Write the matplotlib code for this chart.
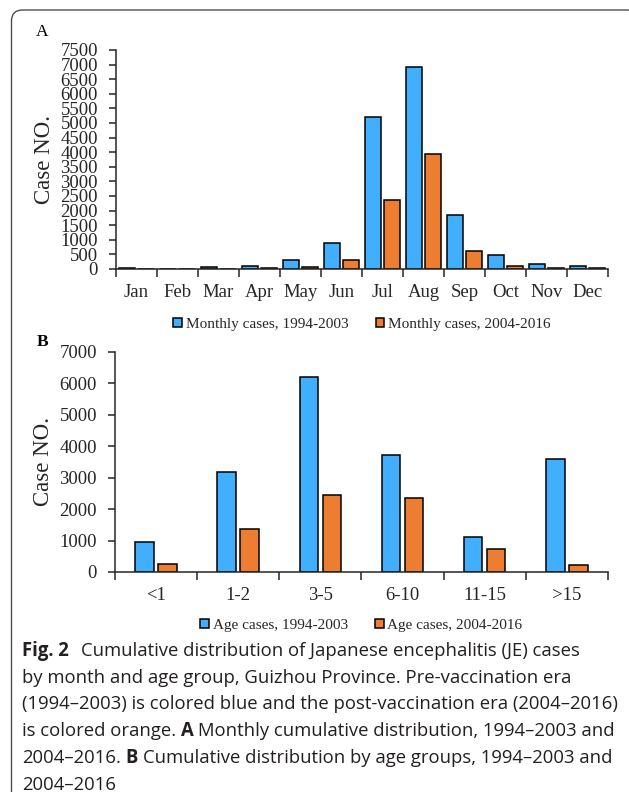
import matplotlib
matplotlib.use('Agg')
import matplotlib.pyplot as plt
import matplotlib.patches as patches
import numpy as np

# monthly cumulative cases (panel A)
months = ['Jan', 'Feb', 'Mar', 'Apr', 'May', 'Jun', 'Jul', 'Aug', 'Sep', 'Oct', 'Nov', 'Dec']
month_pre = [20, 15, 80, 115, 310, 890, 5195, 6905, 1860, 490, 160, 90]
month_post = [10, 10, 15, 20, 55, 310, 2375, 3940, 605, 105, 50, 25]

# cumulative cases by age group (panel B)
age_groups = ['<1', '1-2', '3-5', '6-10', '11-15', '>15']
age_pre = [945, 3170, 6215, 3723, 1103, 3595]
age_post = [265, 1378, 2460, 2345, 732, 212]

caption = [
    [('Fig. 2', True), ('Cumulative distribution of Japanese encephalitis (JE) cases', False)],
    [('by month and age group, Guizhou Province. Pre-vaccination era', False)],
    [('(1994–2003) is colored blue and the post-vaccination era (2004–2016)', False)],
    [('is colored orange.', False), ('A', True), ('Monthly cumulative distribution, 1994–2003 and', False)],
    [('2004–2016.', False), ('B', True), ('Cumulative distribution by age groups, 1994–2003 and', False)],
    [('2004–2016', False)],
]

blue = '#41AFFD'
orange = '#ED7D31'
axis_col = '#262626'
text_col = '#262626'

plt.rcParams['font.family'] = ['Liberation Serif', 'DejaVu Serif']

fig = plt.figure(figsize=(6.29, 8.01), dpi=100)

# full-figure overlay in pixel units for the frame and caption
bg = fig.add_axes([0, 0, 1, 1], zorder=-1)
bg.set_xlim(0, 629)
bg.set_ylim(801, 0)
bg.axis('off')
frame = patches.FancyBboxPatch((11.5, 10), 626, 830,
                               boxstyle='round,pad=0,rounding_size=11',
                               fill=False, ec='#4d4d4d', lw=1.0)
bg.add_patch(frame)
clip = patches.Rectangle((0, 0), 629, 792, transform=bg.transData)
frame.set_clip_path(clip)


def style_axes(ax, n, ymax, ystep):
    ax.set_xlim(-0.5, n - 0.5)
    ax.set_ylim(0, ymax)
    ax.set_yticks(np.arange(0, ymax + 1, ystep))
    ax.set_xticks(np.arange(n))
    ax.set_xticks(np.arange(-0.5, n, 1), minor=True)
    ax.tick_params(axis='x', which='major', length=0, pad=11, labelsize=13.5, colors=text_col)
    ax.tick_params(axis='x', which='minor', length=6, width=1.1, color=axis_col)
    ax.tick_params(axis='y', length=5, width=1.1, pad=8, labelsize=13.5,
                   color=axis_col, labelcolor=text_col)
    for s in ['top', 'right']:
        ax.spines[s].set_visible(False)
    for s in ['left', 'bottom']:
        ax.spines[s].set_linewidth(1.1)
        ax.spines[s].set_color(axis_col)
    ax.set_ylabel('Case NO.', fontsize=16.5, color=text_col)
    ax.yaxis.set_label_coords(-0.123, 0.5)


# panel A
axA = fig.add_axes([0.1844, 0.6642, 0.7822, 0.2734])
x = np.arange(len(months))
axA.bar(x - 0.23, month_pre, 0.37, color=blue, edgecolor='black', linewidth=1.1,
        label='Monthly cases, 1994-2003')
axA.bar(x + 0.23, month_post, 0.37, color=orange, edgecolor='black', linewidth=1.1,
        label='Monthly cases, 2004-2016')
style_axes(axA, len(months), 7500, 500)
axA.set_xticklabels(months)
axA.legend(loc='center', bbox_to_anchor=(0.5, -0.252), ncol=2, frameon=False,
           fontsize=11, handlelength=0.55, handleheight=0.55, handletextpad=0.25,
           columnspacing=1.8, labelcolor=text_col)
fig.text(42 / 629, 1 - 32 / 801, 'A', fontsize=12.5, ha='center', va='center', color='black')

# panel B
axB = fig.add_axes([0.1828, 0.2859, 0.7838, 0.2747])
xb = np.arange(len(age_groups))
axB.bar(xb - 0.14, age_pre, 0.225, color=blue, edgecolor='black', linewidth=1.1,
        label='Age cases, 1994-2003')
axB.bar(xb + 0.14, age_post, 0.225, color=orange, edgecolor='black', linewidth=1.1,
        label='Age cases, 2004-2016')
style_axes(axB, len(age_groups), 7000, 1000)
axB.set_xticklabels(age_groups)
axB.legend(loc='center', bbox_to_anchor=(0.5, -0.242), ncol=2, frameon=False,
           fontsize=11, handlelength=0.55, handleheight=0.55, handletextpad=0.25,
           columnspacing=1.8, labelcolor=text_col)
fig.text(43 / 629, 1 - 342 / 801, 'B', fontsize=12.5, fontweight='bold',
         ha='center', va='center', color='black')

# caption with bold runs
cap_font = 'Open Sans'
renderer = fig.canvas.get_renderer()


def text_width(s, size, bold=False):
    t = bg.text(0, 0, s, fontsize=size, family=cap_font,
                fontweight='bold' if bold else 'normal')
    w = t.get_window_extent(renderer).width
    t.remove()
    return w


probe = caption[2][0][0]
cap_size = 10 * 595 / text_width(probe, 10)
space_w = text_width('n n', cap_size) - text_width('nn', cap_size)

base_y = 656
line_h = 26.7
for i, line in enumerate(caption):
    xpos = 22
    for j, (txt, bold) in enumerate(line):
        if j > 0:
            xpos += space_w * (2.5 if line[j - 1][0] == 'Fig. 2' else 1)
        t = bg.text(xpos, base_y + i * line_h, txt, fontsize=cap_size, family=cap_font,
                    fontweight='bold' if bold else 'normal', va='baseline', ha='left',
                    color='#231f20')
        xpos += t.get_window_extent(renderer).width

fig.savefig('out.png', dpi=100)
